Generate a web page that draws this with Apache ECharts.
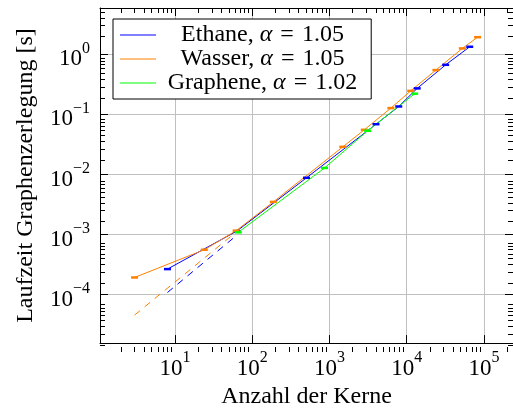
<!DOCTYPE html>
<html>
<head>
<meta charset="utf-8">
<script src="https://cdn.jsdelivr.net/npm/echarts@6/dist/echarts.min.js"></script>
<style>
  html, body { margin: 0; padding: 0; background: #ffffff; }
  #chart { width: 513px; height: 414px; }
</style>
</head>
<body>
<div id="chart"></div>
<script>
// Laufzeit der Graphenzerlegung in Abhängigkeit von der Anzahl der Kerne (doppelt logarithmisch)

// Ethane
const ethaneCores = [8, 63, 505, 4010, 7900, 13700, 32000, 65600];
const ethaneTime  = [2.62e-4, 1.12e-3, 8.65e-3, 0.0674, 0.133, 0.266, 0.656, 1.31];
// Wasser
const wasserCores = [3, 24, 62, 188, 1490, 2830, 6250, 11300, 23900, 52600, 83000];
const wasserTime  = [1.9e-4, 5.5e-4, 1.14e-3, 3.44e-3, 0.0283, 0.0544, 0.125, 0.242, 0.536, 1.23, 1.89];
// Graphene
const grapheneCores = [66, 864, 3130, 12700];
const grapheneTime  = [1.07e-3, 0.0126, 0.0525, 0.217];

// ideale Skalierung (gestrichelt)
const ethaneIdealCores = [8, 64];
const ethaneIdealTime  = [1.07e-4, 9.7e-4];
const wasserIdealCores = [3, 64];
const wasserIdealTime  = [4.5e-5, 1.12e-3];

// Skalierungsexponenten für die Legende
const seriesNames = ['Ethane', 'Wasser', 'Graphene'];
const alphaValues = ['1.05', '1.05', '1.02'];

// Zehnerpotenzen der Achsen
const xTickExponents = [1, 2, 3, 4, 5];
const yTickExponents = [-4, -3, -2, -1, 0];

const SERIF = '"Liberation Serif", "Times New Roman", serif';
const BLUE = '#0000ff', ORANGE = '#ff8000', GREEN = '#00ff00';

// Achsenbereiche in log10
const xMin = 0.0296, xMax = 5.377;
const yMin = -4.813, yMax = 0.762;

const toLog = (xs, ys) => xs.map((x, i) => [Math.log10(x), Math.log10(ys[i])]);

// Nebenstriche bei 2..9 * 10^n
function minorTicks(lo, hi) {
  const out = [];
  for (let n = Math.floor(lo) - 1; n <= Math.ceil(hi); n++) {
    for (let k = 2; k <= 9; k++) {
      const v = n + Math.log10(k);
      if (v > lo && v < hi) out.push(v);
    }
  }
  return out;
}

const expText = v => (v < 0 ? '\u2212' + (-v) : String(v));
const powLabel = v => '{b|10}{e|' + expText(Math.round(v)) + '}';
const powRich = {
  b: { fontFamily: SERIF, fontSize: 23, lineHeight: 30, verticalAlign: 'bottom', color: '#000' },
  e: { fontFamily: SERIF, fontSize: 16, lineHeight: 14, verticalAlign: 'top', color: '#000' }
};

function majorAxis(kind, pos, gridIndex, ticks, withLabels, withName) {
  const isX = kind === 'x';
  const ax = {
    type: 'value',
    gridIndex: gridIndex,
    position: pos,
    min: isX ? xMin : yMin,
    max: isX ? xMax : yMax,
    axisLine: { show: true, onZero: false, lineStyle: { color: '#000', width: 1 } },
    axisTick: { show: true, inside: true, length: 8, customValues: ticks, lineStyle: { color: '#000', width: 1 } },
    axisLabel: withLabels
      ? { show: true, customValues: ticks, formatter: powLabel, rich: powRich, margin: isX ? 7 : 10,
          padding: isX ? 0 : [4, 0, 0, 0] }
      : { show: false },
    splitLine: withLabels
      ? { show: true, lineStyle: { color: '#c0c0c0', width: 1 } }
      : { show: false }
  };
  if (withName) {
    ax.name = isX ? 'Anzahl der Kerne' : 'Laufzeit Graphenzerlegung [s]';
    ax.nameLocation = 'middle';
    ax.nameGap = isX ? 38 : 62;
    ax.nameTextStyle = { fontFamily: SERIF, fontSize: 24, color: '#000' };
  }
  return ax;
}

function minorAxis(kind, pos, gridIndex) {
  const isX = kind === 'x';
  return {
    type: 'value',
    gridIndex: gridIndex,
    position: pos,
    min: isX ? xMin : yMin,
    max: isX ? xMax : yMax,
    axisLine: { show: false, onZero: false },
    axisTick: { show: true, inside: true, length: 5,
      customValues: isX ? minorTicks(xMin, xMax) : minorTicks(yMin, yMax),
      lineStyle: { color: '#000', width: 1 } },
    axisLabel: { show: false },
    splitLine: { show: false }
  };
}

const gridRect = { left: 100, right: -3, top: 8, bottom: 62 };

const mainSeries = (name, color, xs, ys) => ({
  name: name,
  type: 'line',
  xAxisIndex: 0,
  yAxisIndex: 0,
  data: toLog(xs, ys),
  color: color,
  lineStyle: { color: color, width: 1 },
  symbol: 'rect',
  symbolSize: [7, 2.5],
  itemStyle: { color: color },
  z: 3
});

const idealSeries = (name, color, xs, ys) => ({
  name: name,
  type: 'line',
  xAxisIndex: 0,
  yAxisIndex: 0,
  data: toLog(xs, ys),
  showSymbol: false,
  symbol: 'none',
  lineStyle: { color: color, width: 1, type: [7, 6] },
  z: 2
});

const chart = echarts.init(document.getElementById('chart'), null, { renderer: 'canvas' });

chart.setOption({
  animation: false,
  backgroundColor: '#ffffff',
  grid: [ Object.assign({}, gridRect), Object.assign({}, gridRect) ],
  xAxis: [
    majorAxis('x', 'bottom', 0, xTickExponents, true, true),
    majorAxis('x', 'top', 0, xTickExponents, false, false),
    minorAxis('x', 'bottom', 1),
    minorAxis('x', 'top', 1)
  ],
  yAxis: [
    majorAxis('y', 'left', 0, yTickExponents, true, true),
    majorAxis('y', 'right', 0, yTickExponents, false, false),
    minorAxis('y', 'left', 1),
    minorAxis('y', 'right', 1)
  ],
  legend: {
    data: seriesNames.map(n => ({ name: n, icon: 'rect' })),
    orient: 'vertical',
    left: 113,
    top: 19,
    padding: [4, 14, 4, 7],
    itemWidth: 36,
    itemHeight: 1.2,
    itemGap: 0,
    selectedMode: false,
    backgroundColor: '#ffffff',
    borderColor: '#000000',
    borderWidth: 1,
    itemStyle: { borderWidth: 0 },
    formatter: name => {
      const a = alphaValues[seriesNames.indexOf(name)];
      return '{t|' + name + ', }{a|\u03b1}{t|\u2004=\u2004' + a + '}';
    },
    textStyle: {
      width: 203,
      fontFamily: SERIF,
      fontSize: 24,
      color: '#000',
      rich: {
        t: { fontFamily: SERIF, fontSize: 24, lineHeight: 28, align: 'center', color: '#000' },
        a: { fontFamily: SERIF, fontSize: 24, lineHeight: 28, fontStyle: 'italic', align: 'center', color: '#000' }
      }
    }
  },
  series: [
    mainSeries('Ethane', BLUE, ethaneCores, ethaneTime),
    mainSeries('Wasser', ORANGE, wasserCores, wasserTime),
    mainSeries('Graphene', GREEN, grapheneCores, grapheneTime),
    idealSeries('Ethane ideal', BLUE, ethaneIdealCores, ethaneIdealTime),
    idealSeries('Wasser ideal', ORANGE, wasserIdealCores, wasserIdealTime)
  ]
});
</script>
</body>
</html>
